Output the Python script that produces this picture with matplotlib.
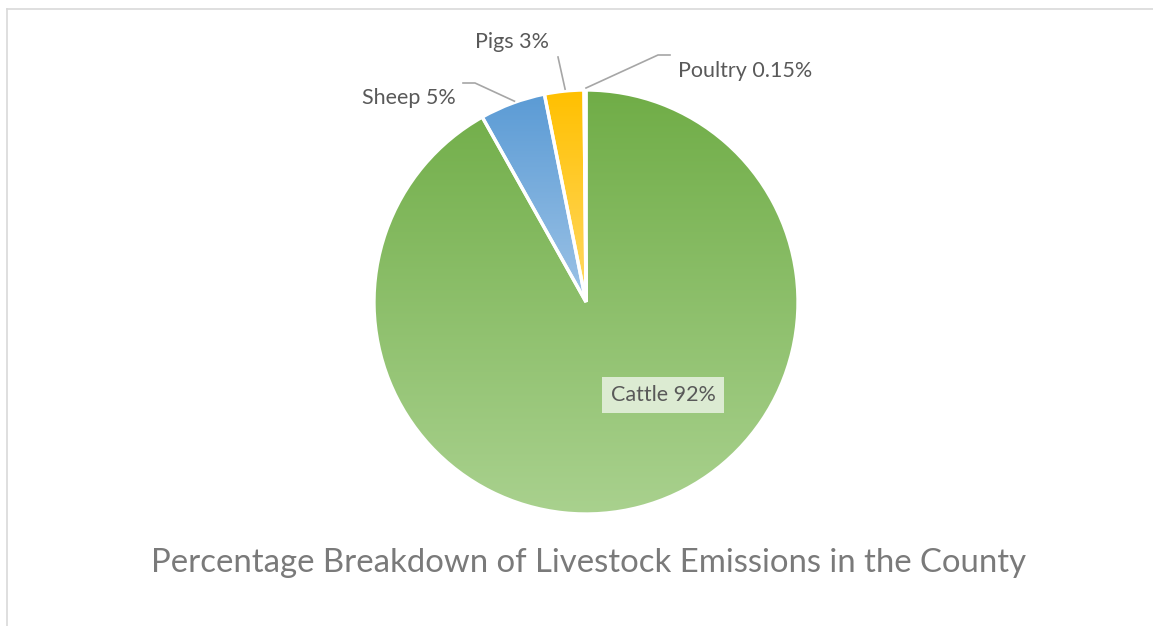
import numpy as np
import matplotlib
matplotlib.use("Agg")
import matplotlib.pyplot as plt
from matplotlib.colors import LinearSegmentedColormap
from matplotlib.lines import Line2D

categories = ["Cattle", "Sheep", "Pigs", "Poultry"]
values = [92, 5, 3, 0.15]
value_labels = ["92%", "5%", "3%", "0.15%"]
title = "Percentage Breakdown of Livestock Emissions in the County"

top_colors = ["#70AD47", "#5B9BD5", "#FFC000", "#A5A5A5"]
bottom_colors = ["#A9D18E", "#9DC3E6", "#FFD966", "#C9C9C9"]

W, H = 1153, 626
fig = plt.figure(figsize=(W / 100, H / 100), dpi=100)
ax = fig.add_axes([0, 0, 1, 1])

cx, cy, R = 586, H - 302, 212
wedges, _ = ax.pie(values, startangle=90, counterclock=False, radius=R,
                   center=(cx, cy), frame=True,
                   wedgeprops=dict(edgecolor="white", linewidth=2.4, facecolor="none", zorder=3))
ax.set_xlim(0, W)
ax.set_ylim(0, H)
ax.set_aspect("equal")
ax.axis("off")

grad = np.linspace(0, 1, 256).reshape(-1, 1)
for w, c0, c1 in zip(wedges, top_colors, bottom_colors):
    cmap = LinearSegmentedColormap.from_list("g", [c0, c1])
    bb = w.get_path().get_extents(w.get_transform())
    inv = ax.transData.inverted()
    (x0, y0), (x1, y1) = inv.transform([[bb.x0, bb.y0], [bb.x1, bb.y1]])
    im = ax.imshow(grad, cmap=cmap, extent=(x0, x1, y0, y1), origin="upper",
                   aspect="auto", zorder=2, interpolation="bilinear")
    im.set_clip_path(w)

ax.set_xlim(0, W)
ax.set_ylim(0, H)

label_color = "#595959"
line_color = "#A6A6A6"
fam = ["Lato", "DejaVu Sans"]
fs = 15.5

# Cattle label (inside, boxed)
ax.text(663, H - 395, f"{categories[0]} {value_labels[0]}", ha="center", va="center",
        fontsize=fs, color=label_color, family=fam, zorder=5,
        bbox=dict(boxstyle="square,pad=0.38", facecolor="#DCEBD2", edgecolor="none"))

def edge_point(w):
    ang = np.deg2rad((w.theta1 + w.theta2) / 2)
    return cx + R * np.cos(ang), cy + R * np.sin(ang)

# Sheep
ex, ey = edge_point(wedges[1])
ax.add_line(Line2D([463, 475, ex + 2], [H - 83, H - 83, ey + 2], color=line_color, lw=1.2, zorder=4))
ax.text(456, H - 98, f"{categories[1]} {value_labels[1]}", ha="right", va="center",
        fontsize=fs, color=label_color, family=fam)
# Pigs
ex, ey = edge_point(wedges[2])
ax.add_line(Line2D([558, ex + 1], [H - 57, ey + 2], color=line_color, lw=1.2, zorder=4))
ax.text(512, H - 42, f"{categories[2]} {value_labels[2]}", ha="center", va="center",
        fontsize=fs, color=label_color, family=fam)
# Poultry
ex, ey = edge_point(wedges[3])
ax.add_line(Line2D([670, 658, ex + 1], [H - 55, H - 55, ey + 2], color=line_color, lw=1.2, zorder=4))
ax.text(678, H - 71, f"{categories[3]} {value_labels[3]}", ha="left", va="center",
        fontsize=fs, color=label_color, family=fam)

ax.text(589, H - 563, title, ha="center", va="center", fontsize=23.7, color="#7A7A7A", family=fam)

# frame lines (top and left)
fig.add_artist(Line2D([6.5 / W, 1], [1 - 8.5 / H, 1 - 8.5 / H], transform=fig.transFigure, color="#D9D9D9", lw=1.2))
fig.add_artist(Line2D([6.5 / W, 6.5 / W], [0, 1 - 8.5 / H], transform=fig.transFigure, color="#D9D9D9", lw=1.2))

fig.savefig("out.png", dpi=100, facecolor="white")
